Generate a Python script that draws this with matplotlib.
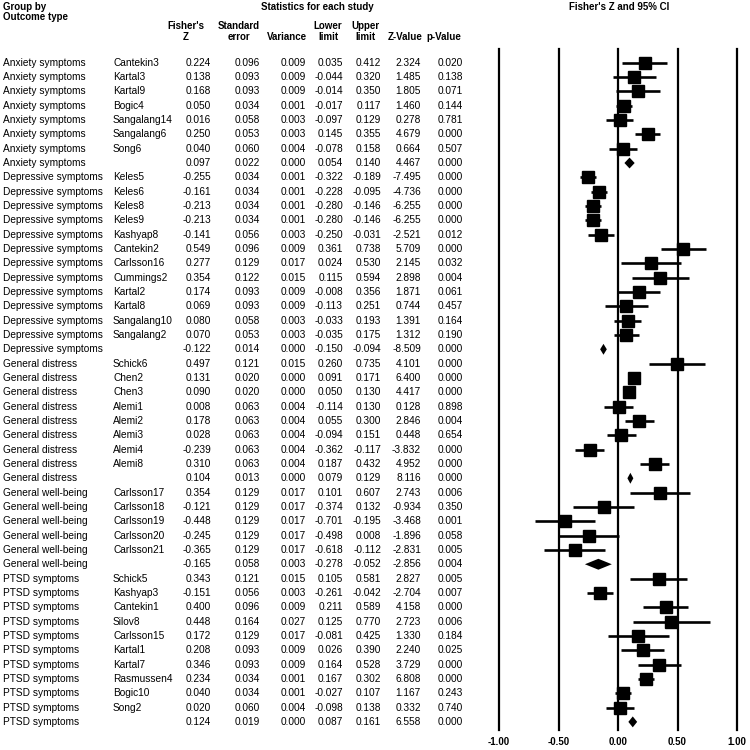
import matplotlib
matplotlib.use('Agg')
import matplotlib.pyplot as plt

plt.rcParams['font.family'] = ['Liberation Sans', 'DejaVu Sans']

# ---------------------------------------------------------------
# data (empty study = group summary)
groups = ['Anxiety symptoms'] * 8 + ['Depressive symptoms'] * 13 + \
         ['General distress'] * 9 + ['General well-being'] * 6 + ['PTSD symptoms'] * 11

studies = ['Cantekin3', 'Kartal3', 'Kartal9', 'Bogic4', 'Sangalang14', 'Sangalang6', 'Song6', '',
           'Keles5', 'Keles6', 'Keles8', 'Keles9', 'Kashyap8', 'Cantekin2', 'Carlsson16', 'Cummings2',
           'Kartal2', 'Kartal8', 'Sangalang10', 'Sangalang2', '',
           'Schick6', 'Chen2', 'Chen3', 'Alemi1', 'Alemi2', 'Alemi3', 'Alemi4', 'Alemi8', '',
           'Carlsson17', 'Carlsson18', 'Carlsson19', 'Carlsson20', 'Carlsson21', '',
           'Schick5', 'Kashyap3', 'Cantekin1', 'Silov8', 'Carlsson15', 'Kartal1', 'Kartal7',
           'Rasmussen4', 'Bogic10', 'Song2', '']

fisher_z = [0.224, 0.138, 0.168, 0.050, 0.016, 0.250, 0.040, 0.097,
            -0.255, -0.161, -0.213, -0.213, -0.141, 0.549, 0.277, 0.354, 0.174, 0.069, 0.080, 0.070, -0.122,
            0.497, 0.131, 0.090, 0.008, 0.178, 0.028, -0.239, 0.310, 0.104,
            0.354, -0.121, -0.448, -0.245, -0.365, -0.165,
            0.343, -0.151, 0.400, 0.448, 0.172, 0.208, 0.346, 0.234, 0.040, 0.020, 0.124]

std_err = [0.096, 0.093, 0.093, 0.034, 0.058, 0.053, 0.060, 0.022,
           0.034, 0.034, 0.034, 0.034, 0.056, 0.096, 0.129, 0.122, 0.093, 0.093, 0.058, 0.053, 0.014,
           0.121, 0.020, 0.020, 0.063, 0.063, 0.063, 0.063, 0.063, 0.013,
           0.129, 0.129, 0.129, 0.129, 0.129, 0.058,
           0.121, 0.056, 0.096, 0.164, 0.129, 0.093, 0.093, 0.034, 0.034, 0.060, 0.019]

variance = [0.009, 0.009, 0.009, 0.001, 0.003, 0.003, 0.004, 0.000,
            0.001, 0.001, 0.001, 0.001, 0.003, 0.009, 0.017, 0.015, 0.009, 0.009, 0.003, 0.003, 0.000,
            0.015, 0.000, 0.000, 0.004, 0.004, 0.004, 0.004, 0.004, 0.000,
            0.017, 0.017, 0.017, 0.017, 0.017, 0.003,
            0.015, 0.003, 0.009, 0.027, 0.017, 0.009, 0.009, 0.001, 0.001, 0.004, 0.000]

lower = [0.035, -0.044, -0.014, -0.017, -0.097, 0.145, -0.078, 0.054,
         -0.322, -0.228, -0.280, -0.280, -0.250, 0.361, 0.024, 0.115, -0.008, -0.113, -0.033, -0.035, -0.150,
         0.260, 0.091, 0.050, -0.114, 0.055, -0.094, -0.362, 0.187, 0.079,
         0.101, -0.374, -0.701, -0.498, -0.618, -0.278,
         0.105, -0.261, 0.211, 0.125, -0.081, 0.026, 0.164, 0.167, -0.027, -0.098, 0.087]

upper = [0.412, 0.320, 0.350, 0.117, 0.129, 0.355, 0.158, 0.140,
         -0.189, -0.095, -0.146, -0.146, -0.031, 0.738, 0.530, 0.594, 0.356, 0.251, 0.193, 0.175, -0.094,
         0.735, 0.171, 0.130, 0.130, 0.300, 0.151, -0.117, 0.432, 0.129,
         0.607, 0.132, -0.195, 0.008, -0.112, -0.052,
         0.581, -0.042, 0.589, 0.770, 0.425, 0.390, 0.528, 0.302, 0.107, 0.138, 0.161]

z_value = [2.324, 1.485, 1.805, 1.460, 0.278, 4.679, 0.664, 4.467,
           -7.495, -4.736, -6.255, -6.255, -2.521, 5.709, 2.145, 2.898, 1.871, 0.744, 1.391, 1.312, -8.509,
           4.101, 6.400, 4.417, 0.128, 2.846, 0.448, -3.832, 4.952, 8.116,
           2.743, -0.934, -3.468, -1.896, -2.831, -2.856,
           2.827, -2.704, 4.158, 2.723, 1.330, 2.240, 3.729, 6.808, 1.167, 0.332, 6.558]

p_value = [0.020, 0.138, 0.071, 0.144, 0.781, 0.000, 0.507, 0.000,
           0.000, 0.000, 0.000, 0.000, 0.012, 0.000, 0.032, 0.004, 0.061, 0.457, 0.164, 0.190, 0.000,
           0.000, 0.000, 0.000, 0.898, 0.004, 0.654, 0.000, 0.000, 0.000,
           0.006, 0.350, 0.001, 0.058, 0.005, 0.004,
           0.005, 0.007, 0.000, 0.006, 0.184, 0.025, 0.000, 0.000, 0.243, 0.740, 0.000]

xticks = [-1.0, -0.5, 0.0, 0.5, 1.0]

# ---------------------------------------------------------------
# layout helpers (pixel rows of the 750x750 picture -> row index)
Y0, DY = 62.7, 14.33


def row(p):
    return (p - Y0) / DY


fig = plt.figure(figsize=(7.5, 7.5), dpi=100)
fig.patch.set_facecolor('white')

# table part
tax = fig.add_axes([0, 0, 1, 1])
tax.set_xlim(0, 750)
tax.set_ylim(row(750), row(0))
tax.axis('off')

fs = 7.3
hfs = 7.0
tax.text(3, row(7), 'Group by', ha='left', va='center', fontsize=hfs, fontweight='bold')
tax.text(3, row(17), 'Outcome type', ha='left', va='center', fontsize=hfs, fontweight='bold')
tax.text(317, row(7), 'Statistics for each study', ha='center', va='center', fontsize=hfs, fontweight='bold')
tax.text(619, row(7), "Fisher's Z and 95% CI", ha='center', va='center', fontsize=hfs, fontweight='bold')

head_top = ["Fisher's", 'Standard', '', 'Lower', 'Upper', '', '']
head_bot = ['Z', 'error', 'Variance', 'limit', 'limit', 'Z-Value', 'p-Value']
head_x = [186, 239, 287, 328, 365, 405, 444]
for t, b, x in zip(head_top, head_bot, head_x):
    tax.text(x, row(26), t, ha='center', va='center', fontsize=hfs, fontweight='bold')
    tax.text(x, row(37), b, ha='center', va='center', fontsize=hfs, fontweight='bold')

col_right = [211, 260, 306, 343, 381, 421, 463]
columns = [fisher_z, std_err, variance, lower, upper, z_value, p_value]
for i in range(len(groups)):
    tax.text(3, i, groups[i], ha='left', va='center', fontsize=fs)
    tax.text(113, i, studies[i], ha='left', va='center', fontsize=fs)
    for x, col in zip(col_right, columns):
        tax.text(x, i, '%.3f' % col[i], ha='right', va='center', fontsize=fs)

# forest part
ax = fig.add_axes([499 / 750, 20 / 750, 238 / 750, 681 / 750])
ax.set_xlim(-1, 1)
ax.set_ylim(row(730), row(49))
ax.patch.set_alpha(0)
for s in ax.spines.values():
    s.set_visible(False)

for t in xticks:
    ax.axvline(t, color='black', lw=1.6, clip_on=False, zorder=1)

h = 0.38
for i in range(len(groups)):
    if studies[i] == '':
        ax.fill([lower[i], fisher_z[i], upper[i], fisher_z[i]],
                [i, i - h, i, i + h], color='black', lw=0, zorder=3)
    else:
        ax.plot([lower[i], upper[i]], [i, i], color='black', lw=1.9,
                solid_capstyle='butt', zorder=2)
        ax.plot(fisher_z[i], i, marker='s', ms=8.5, color='black', zorder=3)

ax.set_xticks(xticks)
ax.set_xticklabels(['%.2f' % t for t in xticks], fontsize=hfs, fontweight='bold')
ax.tick_params(axis='x', length=0, pad=5)
ax.set_yticks([])

fig.savefig('out.png', dpi=100, facecolor='white')
